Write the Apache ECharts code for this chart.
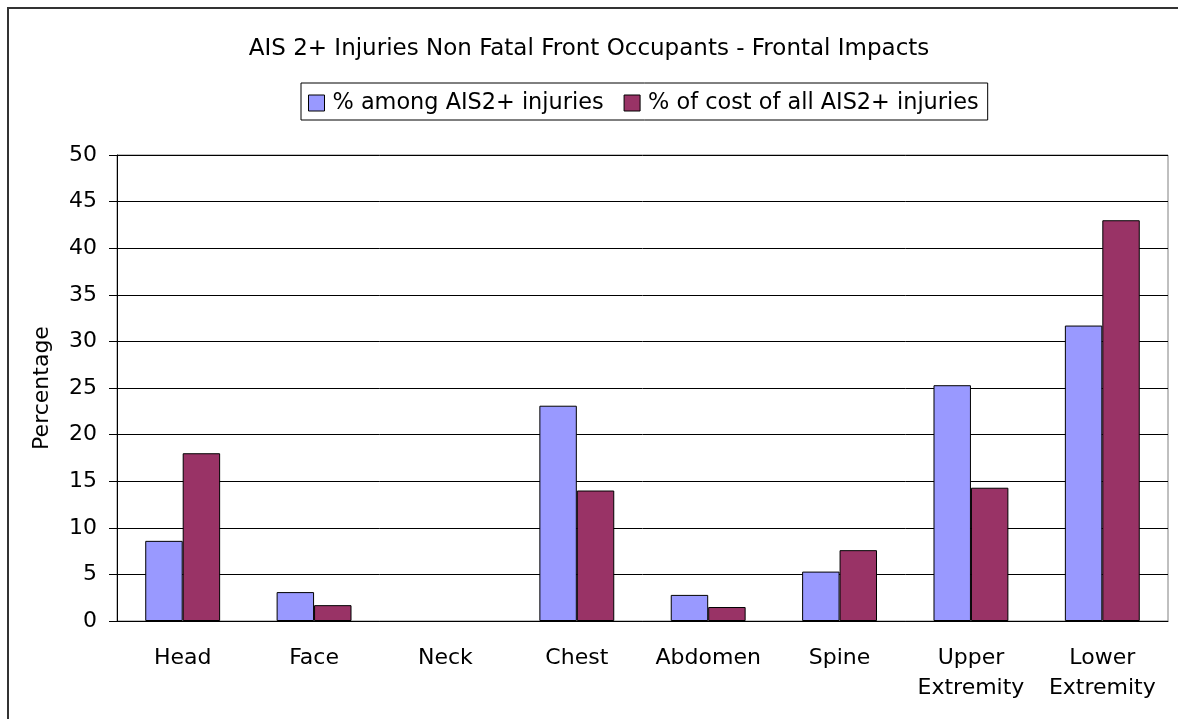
<!DOCTYPE html>
<html>
<head>
<meta charset="utf-8">
<title>AIS 2+ Injuries</title>
<script src="https://cdn.jsdelivr.net/npm/echarts@6/dist/echarts.min.js"></script>
<style>
  html, body { margin: 0; padding: 0; background: #fff; }
  #chart { width: 1178px; height: 719px; }
</style>
</head>
<body>
<div id="chart"></div>
<script>
  // body regions and the two series
  var regions = ['Head', 'Face', 'Neck', 'Chest', 'Abdomen', 'Spine', 'Upper\nExtremity', 'Lower\nExtremity']
  var shareOfInjuries = [8.6, 3.1, 0, 23.1, 2.8, 5.3, 25.3, 31.7]
  var shareOfCost = [18.0, 1.7, 0, 14.0, 1.5, 7.6, 14.3, 43.0]
  var seriesNames = ['% among AIS2+ injuries', '% of cost of all AIS2+ injuries']

  var font = 'DejaVu Sans'
  var chart = echarts.init(document.getElementById('chart'))

  // zero values get no outline, like the empty Neck group in the original
  function bars(values) {
    return values.map(function (v) {
      return v === 0 ? { value: v, itemStyle: { borderWidth: 0 } } : v
    })
  }

  var option = {
    backgroundColor: '#fff',
    animation: false,
    title: {
      text: 'AIS 2+ Injuries Non Fatal Front Occupants - Frontal Impacts',
      left: 'center',
      top: 33,
      textStyle: { fontFamily: font, fontSize: 23, fontWeight: 'normal', color: '#000' }
    },
    legend: {
      data: seriesNames,
      left: 301,
      top: 83,
      padding: [9, 9, 6, 7],
      itemGap: 20,
      itemWidth: 16,
      itemHeight: 16,
      icon: 'rect',
      borderColor: '#000',
      borderWidth: 1,
      itemStyle: { borderColor: '#000', borderWidth: 1 },
      textStyle: { fontFamily: font, fontSize: 22.4, color: '#000', padding: [0, 0, 0, 3] }
    },
    grid: {
      left: 117,
      right: 10,
      top: 155,
      bottom: 98,
      show: true,
      borderColor: '#808080',
      borderWidth: 1
    },
    xAxis: {
      type: 'category',
      data: regions,
      axisLine: { lineStyle: { color: '#000' } },
      axisTick: { length: 8, lineStyle: { color: '#000' } },
      axisLabel: {
        fontFamily: font,
        fontSize: 22,
        color: '#000',
        lineHeight: 30,
        margin: 22,
        interval: 0
      }
    },
    yAxis: {
      type: 'value',
      min: 0,
      max: 50,
      interval: 5,
      name: 'Percentage',
      nameLocation: 'middle',
      nameGap: 64,
      nameTextStyle: { fontFamily: font, fontSize: 22, color: '#000' },
      axisLine: { show: true, lineStyle: { color: '#000' } },
      axisTick: { show: true, length: 8, lineStyle: { color: '#000' } },
      axisLabel: { fontFamily: font, fontSize: 22, color: '#000', margin: 20 },
      splitLine: { lineStyle: { color: '#000', width: 1 } }
    },
    series: [
      {
        name: seriesNames[0],
        type: 'bar',
        data: bars(shareOfInjuries),
        barGap: 0,
        barCategoryGap: '43%',
        itemStyle: { color: '#9999FF', borderColor: '#000', borderWidth: 1 }
      },
      {
        name: seriesNames[1],
        type: 'bar',
        data: bars(shareOfCost),
        barGap: 0,
        barCategoryGap: '43%',
        itemStyle: { color: '#993366', borderColor: '#000', borderWidth: 1 }
      }
    ],
    graphic: [
      {
        // outer chart frame, runs off the right and bottom edges
        type: 'rect',
        z: -10,
        silent: true,
        shape: { x: 8, y: 8, width: 1200, height: 740 },
        style: { fill: 'none', stroke: '#333', lineWidth: 2 }
      }
    ]
  }

  chart.setOption(option)
</script>
</body>
</html>
